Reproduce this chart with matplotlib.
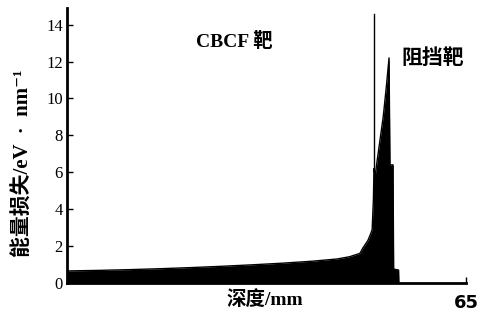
import matplotlib
matplotlib.use("Agg")
import matplotlib.pyplot as plt

plt.rcParams['font.family'] = ['Noto Sans CJK SC', 'DejaVu Sans']
SERIF_CJK = ['Liberation Serif', 'Noto Sans CJK SC', 'DejaVu Serif']

# data (depth in mm, energy loss in eV/nm)
depth = [0, 5, 10, 15, 20, 25, 30, 35, 40, 44, 46, 47.7, 48.2, 49.0, 49.5, 49.7, 49.9,
         50.0, 50.2, 50.5, 51.0, 51.5, 52.0, 52.45, 52.6, 53.1, 53.2, 54.0, 54.05]
loss = [0.65, 0.68, 0.72, 0.77, 0.83, 0.90, 0.98, 1.07, 1.18, 1.3, 1.42, 1.6, 1.9, 2.3, 2.7, 2.9, 4.5,
        6.2, 5.8, 6.6, 7.8, 9.0, 10.6, 12.2, 6.4, 6.4, 0.75, 0.7, 0.0]
boundary = 50.0
xmax = 65
yticks = [0, 2, 4, 6, 8, 10, 12, 14]

fig = plt.figure(figsize=(4.82, 3.23), dpi=100)
ax = fig.add_axes([0.139, 0.124, 0.828, 0.851])

ax.fill_between(depth, 0, loss, color='black', linewidth=0)
ax.plot(depth, loss, color='black', linewidth=1)
ax.plot([boundary, boundary], [0, 14.6], color='black', linewidth=1)

ax.set_xlim(0, xmax)
ax.set_ylim(0, 14.9)
ax.spines['top'].set_visible(False)
ax.spines['right'].set_visible(False)
for s in ('left', 'bottom'):
    ax.spines[s].set_linewidth(2)

ax.set_yticks(yticks)
ax.set_yticklabels([str(t) for t in yticks], fontfamily='Liberation Serif', fontsize=12)
ax.set_xticks([xmax])
ax.set_xticklabels([str(xmax)], fontfamily='Liberation Sans Narrow', fontsize=13, fontweight='bold')
ax.tick_params(axis='y', direction='in', length=4, width=1, pad=3)
ax.tick_params(axis='x', direction='in', length=4, width=1, pad=8)

fig.text(24 / 482, 1 - 163 / 323, '能量损失/eV  ·  nm⁻¹', fontsize=15, fontweight='bold',
         rotation=90, ha='center', va='center', fontfamily=SERIF_CJK)
fig.text(265 / 482, 1 - 300 / 323, '深度/mm', fontsize=14, fontweight='bold',
         ha='center', va='center', fontfamily=SERIF_CJK)

ax.text(27.3, 13.1, 'CBCF 靶', fontsize=14, fontweight='bold', ha='center', va='center',
        fontfamily=SERIF_CJK)
ax.text(59.5, 12.2, '阻挡靶', fontsize=15, fontweight='bold', ha='center', va='center')

fig.savefig('out.png', dpi=100)
